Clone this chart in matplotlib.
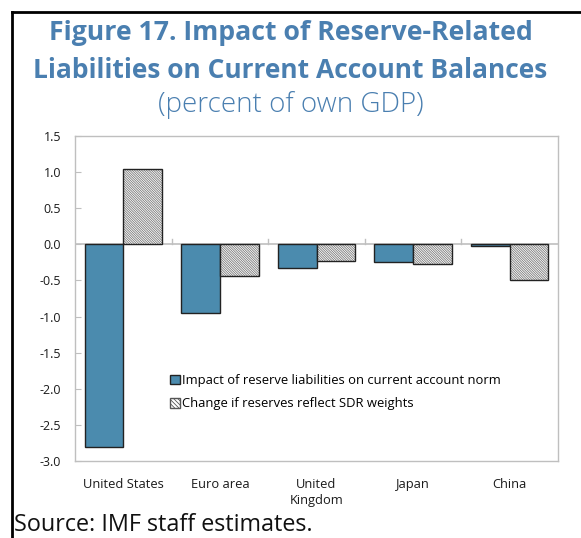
import matplotlib
matplotlib.use("Agg")
import matplotlib.pyplot as plt
import numpy as np
from matplotlib.patches import Patch
from matplotlib.lines import Line2D

plt.rcParams['font.family'] = ['Open Sans', 'DejaVu Sans']
plt.rcParams['hatch.linewidth'] = 0.6

categories = ["United States", "Euro area", "United\nKingdom", "Japan", "China"]
impact = [-2.80, -0.95, -0.33, -0.25, -0.02]
sdr_change = [1.04, -0.44, -0.23, -0.27, -0.50]
yticks = [1.5, 1.0, 0.5, 0.0, -0.5, -1.0, -1.5, -2.0, -2.5, -3.0]

title_color = "#4A7FB0"
bar_blue = "#4B8BAE"
grey_spine = "#BFBFBF"
hatch_pat = "\\" * 14

fig = plt.figure(figsize=(5.81, 5.38), dpi=100)
W, H = 581, 538
ax = fig.add_axes([75 / W, 1 - 461 / H, (558 - 75) / W, (461 - 136) / H])

x = np.arange(len(categories))
w = 0.4
ax.bar(x - w / 2, impact, width=w, color=bar_blue, edgecolor="#222222", linewidth=1.0, zorder=3)
# hatched series: hatch drawn in grey, outline drawn separately in black
ax.bar(x + w / 2, sdr_change, width=w, color="white", edgecolor="#7A7A7A", hatch=hatch_pat, linewidth=0, zorder=3)
ax.bar(x + w / 2, sdr_change, width=w, fill=False, edgecolor="#222222", linewidth=1.0, zorder=4)

ax.set_xlim(-0.5, len(categories) - 0.5)
ax.set_ylim(-3.0, 1.5)
ax.set_yticks(yticks)
ax.set_yticklabels([f"{v:.1f}" for v in yticks], fontsize=9)
ax.tick_params(axis='y', direction='in', length=4, color=grey_spine, pad=10, labelcolor="#1a1a1a")

# zero line with category separators
ax.axhline(0, color=grey_spine, linewidth=1.2, zorder=2)
for b in np.arange(0.5, len(categories) - 0.5, 1.0):
    ax.plot([b, b], [0, 0.08], color=grey_spine, linewidth=1.0, zorder=2)

ax.set_xticks(x)
ax.set_xticklabels(categories, fontsize=9.3, color="#1a1a1a", linespacing=1.3)
ax.tick_params(axis='x', length=0, pad=12)

for s in ax.spines.values():
    s.set_color(grey_spine)
    s.set_linewidth(1.0)

handles = [
    Patch(facecolor=bar_blue, edgecolor="#222222", linewidth=1.0),
    Patch(facecolor="white", edgecolor="#555555", hatch="\\" * 8, linewidth=1.0),
]
labels = ["Impact of reserve liabilities on current account norm",
          "Change if reserves reflect SDR weights"]
leg = ax.legend(handles, labels, loc="upper left", bbox_to_anchor=((170 - 75) / (558 - 75), (461 - 374) / (461 - 136)),
                frameon=False, fontsize=9.4, handlelength=0.75, handleheight=0.75,
                handletextpad=0.2, labelspacing=0.8, borderpad=0, borderaxespad=0)

# figure titles
fig.text(0.5, 1 - 33 / H, "Figure 17. Impact of Reserve-Related", ha="center", va="center",
         fontsize=19.2, fontweight="bold", color=title_color)
fig.text(0.5, 1 - 70 / H, "Liabilities on Current Account Balances", ha="center", va="center",
         fontsize=19, fontweight="bold", color=title_color)
fig.text(0.5, 1 - 105 / H, "(percent of own GDP)", ha="center", va="center",
         fontsize=20, fontweight="light", color=title_color)

fig.text(14 / W, 1 - 525 / H, "Source: IMF staff estimates.", ha="left", va="center",
         fontsize=16.8, color="#111111")

# outer frame on the top and left edges
fig.add_artist(Line2D([12 / W, 1.0], [1 - 12 / H, 1 - 12 / H], transform=fig.transFigure,
                      color="black", linewidth=2.0))
fig.add_artist(Line2D([12 / W, 12 / W], [0, 1 - 12 / H], transform=fig.transFigure,
                      color="black", linewidth=2.0))

fig.savefig("out.png", dpi=100)
